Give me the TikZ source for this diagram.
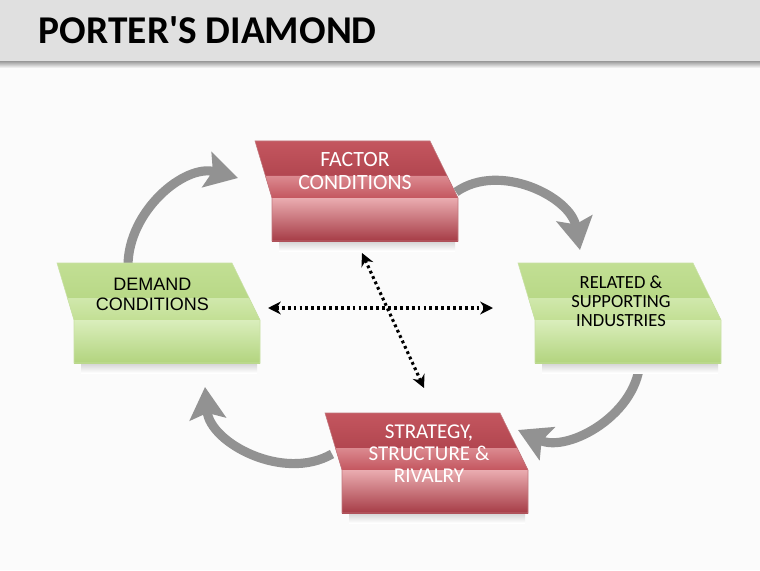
\documentclass[tikz,border=0pt]{standalone}
\usepackage{fontspec}
\setmainfont{Carlito}
\newfontfamily\arialfont{Liberation Sans}
\usetikzlibrary{arrows.meta,positioning}
\definecolor{headgray}{HTML}{E0E0E0}
\definecolor{arrowgray}{HTML}{929292}
\definecolor{redD}{HTML}{A63C46}
\definecolor{redM}{HTML}{C4565F}
\definecolor{redL}{HTML}{EAACB0}
\definecolor{greenD}{HTML}{B2D47E}
\definecolor{greenM}{HTML}{C2DF94}
\definecolor{greenL}{HTML}{DAEEBC}

% 3D tray: #1 = top-left corner, #2 = colour family
\newcommand{\tray}[2]{%
 \begin{scope}[shift={#1}]
  \shade[top color=gray!35,bottom color=white] (0.6,-2.5) rectangle (5.0,-2.75);
  \shade[top color=#2M,bottom color=#2D] (0,0) -- (4.375,0) -- (5.075,-1.425) -- (0.425,-1.425) -- cycle;
  \shade[top color=#2L!60!#2M,bottom color=#2M] (0.26,-0.875) -- (4.805,-0.875) -- (5.075,-1.425) -- (0.425,-1.425) -- cycle;
  \shade[top color=#2L,bottom color=#2D] (0.425,-1.425) rectangle (5.075,-2.5);
  \draw[#2D!70,line width=0.4pt] (0,0) -- (4.375,0) -- (5.075,-1.425) -- (5.075,-2.5) -- (0.425,-2.5) -- (0.425,-1.425) -- cycle;
 \end{scope}}

\begin{document}
\begin{tikzpicture}[
 light/.style={text=white,align=center,inner sep=0pt},
 dark/.style={text=black,align=center,inner sep=0pt},
 cycle arrow/.style={line width=6.5pt,draw=arrowgray,-{Stealth[length=8mm,width=9mm,inset=1.5mm]}},
 dot arrow/.style={line width=2.2pt,dash pattern=on 2pt off 2.2pt,{Stealth[length=3.2mm,width=3.2mm]}-{Stealth[length=3.2mm,width=3.2mm]}}]
\useasboundingbox (0,0) rectangle (19,14.25);
\fill[white!97!gray] (0,0) rectangle (19,14.25);
% header
\fill[headgray] (0,12.7) rectangle (19,14.25);
\shade[top color=gray!70,bottom color=white!97!gray] (0,12.7) rectangle (19,12.55);
\node[anchor=base west,font=\bfseries\fontsize{28}{30}\selectfont] (title) at (0.85,13.15) {PORTER\textquotesingle S DIAMOND};

% cycle arrows
\coordinate (dem-top) at (3.2,7.6);
\coordinate (fac-in) at (5.95,9.8);
\coordinate (fac-right) at (11.4,9.45);
\coordinate (rel-in) at (14.5,8.0);
\coordinate (rel-bottom) at (16.0,5.3);
\coordinate (str-in) at (12.95,3.5);
\coordinate (str-left) at (8.3,2.9);
\coordinate (dem-in) at (5.125,4.575);
\draw[cycle arrow] (dem-top) to[out=90,in=165] (fac-in);
\draw[cycle arrow] (fac-right) to[out=35,in=100] (rel-in);
\draw[cycle arrow] (rel-bottom) to[out=-90,in=-25] (str-in);
\draw[cycle arrow] (str-left) to[out=-150,in=-85] (dem-in);

% trays
\tray{(6.375,10.725)}{red}
\tray{(1.425,7.675)}{green}
\tray{(12.95,7.675)}{green}
\tray{(8.125,3.925)}{red}

\node[light,font=\fontsize{15.5}{16.4}\selectfont] (factor) at (8.875,9.975) {FACTOR\\CONDITIONS};
\node[dark,font=\arialfont\fontsize{12.8}{14.2}\selectfont] (demand) at (3.81,6.9) {DEMAND\\CONDITIONS};
\node[dark,font=\fontsize{13.2}{13.6}\selectfont] (related) at (15.525,6.725) {RELATED \&\\SUPPORTING\\INDUSTRIES};
\node[light,font=\fontsize{15}{15.6}\selectfont] (strategy) at (10.725,2.9) {STRATEGY,\\STRUCTURE \&\\RIVALRY};

% dotted links
\coordinate (h-left) at (6.7,6.55);
\coordinate (h-right) at (12.325,6.55);
\coordinate (d-top) at (9.05,7.925);
\coordinate (d-bottom) at (10.6,4.55);
\draw[dot arrow] (h-left) -- (h-right);
\draw[dot arrow] (d-top) -- (d-bottom);
\end{tikzpicture}
\end{document}
